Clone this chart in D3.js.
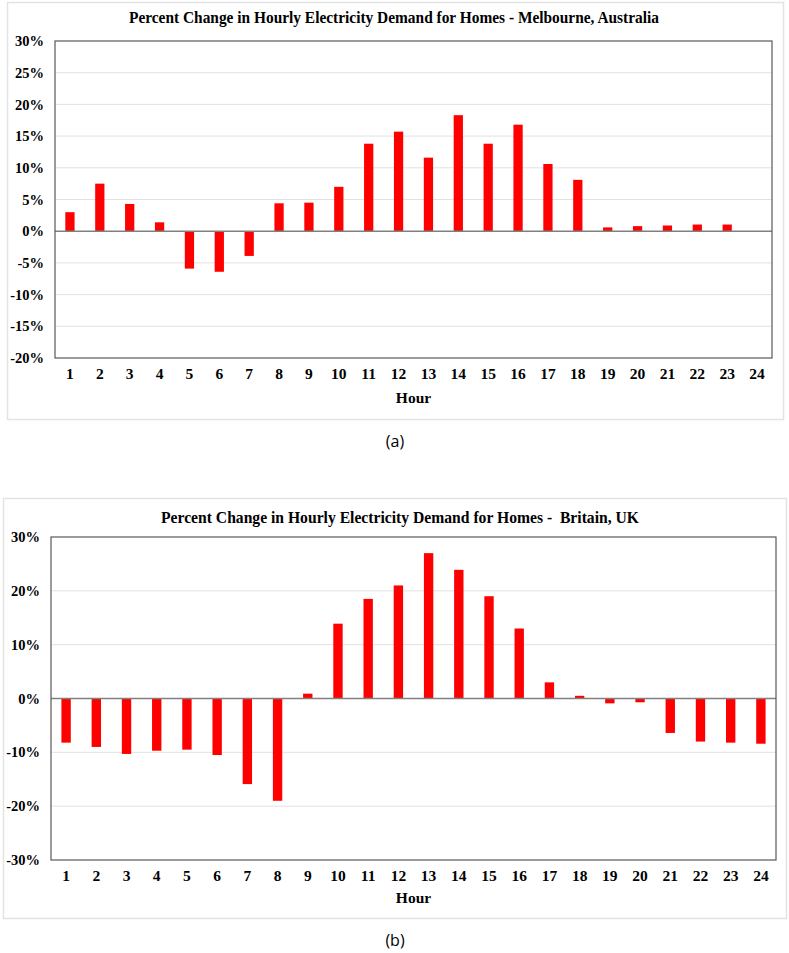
<!DOCTYPE html>
<html>
<head>
<meta charset="utf-8">
<script src="https://cdn.jsdelivr.net/npm/d3@7"></script>
<style>
  html, body { margin: 0; padding: 0; background: #fff; }
  svg { display: block; }
  .pre { white-space: pre; }
</style>
</head>
<body>
<svg id="chart" width="789" height="953"></svg>
<script>
const hours = d3.range(1, 25).map(String);
const melbourneValues = [3.0, 7.5, 4.3, 1.4, -5.9, -6.4, -3.9, 4.4, 4.5, 7.0, 13.8, 15.7,
                         11.6, 18.3, 13.8, 16.8, 10.6, 8.1, 0.6, 0.8, 0.9, 1.05, 1.05, 0];
const britainValues = [-8.2, -9.0, -10.3, -9.7, -9.5, -10.5, -15.9, -19.0, 0.9, 13.9, 18.5, 21.0,
                       27.0, 23.9, 19.0, 13.0, 3.0, 0.5, -0.9, -0.7, -6.4, -8.0, -8.2, -8.4];
const melbourneTicks = [-20, -15, -10, -5, 0, 5, 10, 15, 20, 25, 30];
const britainTicks = [-30, -20, -10, 0, 10, 20, 30];
const titleA = "Percent Change in Hourly Electricity Demand for Homes - Melbourne, Australia";
const titleB = "Percent Change in Hourly Electricity Demand for Homes -  Britain, UK";

const svg = d3.select("#chart");
const serif = "'Liberation Serif', 'Times New Roman', serif";

function drawChart(cfg) {
  const g = svg.append("g");
  g.append("rect")
    .attr("x", cfg.box[0] + 0.5).attr("y", cfg.box[1] + 0.5)
    .attr("width", cfg.box[2] - cfg.box[0]).attr("height", cfg.box[3] - cfg.box[1])
    .attr("fill", "#fff").attr("stroke", "#e3e3e3").attr("stroke-width", 1.5);

  const x = d3.scaleBand().domain(hours)
    .range([cfg.left, cfg.right]).paddingInner(0.69).paddingOuter(0.345);
  const y = d3.scaleLinear().domain(cfg.domain).range([cfg.bottom, cfg.top]);

  g.append("g").selectAll("line")
    .data(cfg.ticks.filter(t => t !== cfg.domain[0] && t !== cfg.domain[1] && t !== 0))
    .join("line")
    .attr("x1", cfg.left).attr("x2", cfg.right)
    .attr("y1", d => y(d)).attr("y2", d => y(d))
    .attr("stroke", "#e2e2e2").attr("stroke-width", 1);

  g.append("g").selectAll("rect")
    .data(cfg.values.map((v, i) => ({h: hours[i], v})))
    .join("rect")
    .attr("x", d => x(d.h))
    .attr("width", x.bandwidth())
    .attr("y", d => y(Math.max(0, d.v)))
    .attr("height", d => Math.abs(y(d.v) - y(0)))
    .attr("fill", "#ff0000");

  g.append("line")
    .attr("x1", cfg.left).attr("x2", cfg.right)
    .attr("y1", y(0)).attr("y2", y(0))
    .attr("stroke", "#808080").attr("stroke-width", 1.5);

  g.append("rect")
    .attr("x", cfg.left).attr("y", cfg.top)
    .attr("width", cfg.right - cfg.left).attr("height", cfg.bottom - cfg.top)
    .attr("fill", "none").attr("stroke", "#595959").attr("stroke-width", 1.2);

  const yAxis = d3.axisLeft(y).tickValues(cfg.ticks).tickSize(0).tickPadding(cfg.yPad)
    .tickFormat(d => d + "%");
  const ya = g.append("g").attr("transform", `translate(${cfg.left},0)`).call(yAxis);
  ya.select(".domain").remove();
  ya.selectAll("text").attr("font-family", serif).attr("font-weight", "bold")
    .attr("font-size", 14.5).attr("fill", "#000");

  const xAxis = d3.axisBottom(x).tickSize(0).tickPadding(cfg.xPad);
  const xa = g.append("g").attr("transform", `translate(0,${cfg.bottom})`).call(xAxis);
  xa.select(".domain").remove();
  xa.selectAll("text").attr("font-family", serif).attr("font-weight", "bold")
    .attr("font-size", 15.5).attr("fill", "#000");

  g.append("text").attr("x", (cfg.left + cfg.right) / 2).attr("y", cfg.hourY)
    .attr("text-anchor", "middle").attr("font-family", serif).attr("font-weight", "bold")
    .attr("font-size", 15.5).text("Hour");

  g.append("text").attr("class", "pre").attr("x", cfg.titleX).attr("y", cfg.titleY)
    .attr("text-anchor", "middle").attr("font-family", serif).attr("font-weight", "bold")
    .attr("font-size", 16).attr("textLength", cfg.titleLen).attr("lengthAdjust", "spacingAndGlyphs")
    .text(cfg.title);

  svg.append("text").attr("x", 395).attr("y", cfg.capY)
    .attr("text-anchor", "middle").attr("font-family", "'Open Sans', 'Noto Sans', sans-serif")
    .attr("font-size", 16).attr("fill", "#000").text(cfg.caption);
}

drawChart({
  box: [7, 2, 783, 419],
  left: 55, right: 772, top: 41, bottom: 358,
  domain: [-20, 30], ticks: melbourneTicks, values: melbourneValues,
  yPad: 11, xPad: 10, hourY: 403,
  title: titleA, titleX: 394, titleY: 23, titleLen: 530,
  caption: "(a)", capY: 447
});

drawChart({
  box: [3, 498, 786, 918],
  left: 51, right: 776, top: 537, bottom: 860,
  domain: [-30, 30], ticks: britainTicks, values: britainValues,
  yPad: 11, xPad: 10, hourY: 903,
  title: titleB, titleX: 400, titleY: 523, titleLen: 478,
  caption: "(b)", capY: 946
});
</script>
</body>
</html>
